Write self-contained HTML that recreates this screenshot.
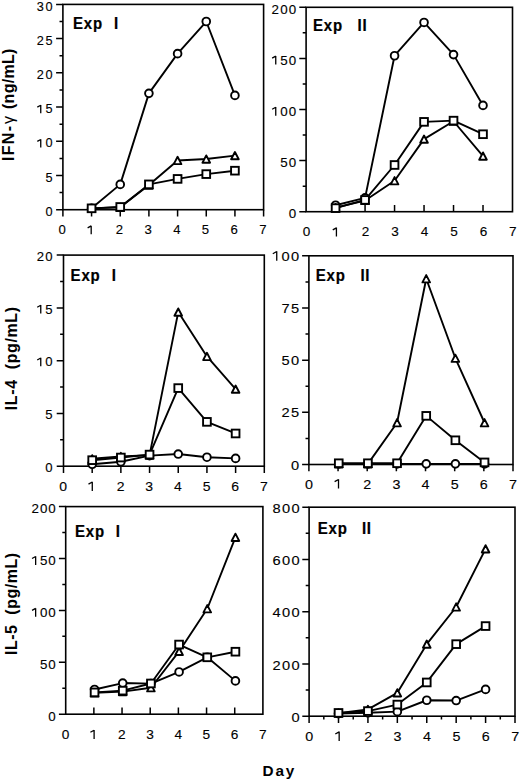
<!DOCTYPE html>
<html><head><meta charset="utf-8"><style>
html,body{margin:0;padding:0;background:#fff;}
body{width:520px;height:781px;overflow:hidden;}
svg{display:block;}
.ax{fill:none;stroke:#000;stroke-width:1.6;}
.tk{fill:none;stroke:#000;stroke-width:1.5;}
.ln{fill:none;stroke:#000;stroke-width:1.9;stroke-linejoin:round;}
.mk{fill:#fff;stroke:#000;stroke-width:1.9;}
.tr{stroke-linejoin:round;}
text{font-family:"Liberation Sans",sans-serif;fill:#000;}
.yl{font-size:12.4px;text-anchor:end;letter-spacing:2.1px;stroke:#000;stroke-width:0.12px;}
.xl{font-size:12.4px;text-anchor:middle;stroke:#000;stroke-width:0.12px;}
.ex{font-size:15px;font-weight:bold;letter-spacing:0.8px;stroke:#000;stroke-width:0.2px;}
.yt{font-size:16.2px;font-weight:bold;letter-spacing:1.1px;}
.g{font-weight:normal;}
.h{fill:none;stroke:none;}
.one{fill:none;stroke:#000;stroke-linecap:butt;}
.dy{font-size:15.3px;font-weight:bold;letter-spacing:1.9px;}
</style></head><body>
<svg width="520" height="781" viewBox="0 0 520 781">
<rect x="62.90" y="4.40" width="200.70" height="205.30" class="ax"/>
<text transform="translate(54.00 215.90) scale(1.07 1)" class="yl" style="font-size:11.9px;letter-spacing:1.419px">0</text>
<text transform="translate(54.00 181.68) scale(1.07 1)" class="yl" style="font-size:11.9px;letter-spacing:1.419px">5</text>
<text transform="translate(54.00 147.47) scale(1.07 1)" class="yl" style="font-size:11.9px;letter-spacing:1.419px"><tspan class="h">1</tspan>0</text>
<path d="M40.75 147.47V139.25M40.75 139.45L37.31 141.33" class="one" style="stroke-width:1.3"/>
<text transform="translate(54.00 113.25) scale(1.07 1)" class="yl" style="font-size:11.9px;letter-spacing:1.419px"><tspan class="h">1</tspan>5</text>
<path d="M40.75 113.25V105.03M40.75 105.23L37.31 107.11" class="one" style="stroke-width:1.3"/>
<text transform="translate(54.00 79.03) scale(1.07 1)" class="yl" style="font-size:11.9px;letter-spacing:1.419px">20</text>
<text transform="translate(54.00 44.82) scale(1.07 1)" class="yl" style="font-size:11.9px;letter-spacing:1.419px">25</text>
<text transform="translate(54.00 10.60) scale(1.07 1)" class="yl" style="font-size:11.9px;letter-spacing:1.419px">30</text>
<path d="M56.10 209.70H62.90 M59.50 192.59H62.90 M56.10 175.48H62.90 M59.50 158.38H62.90 M56.10 141.27H62.90 M59.50 124.16H62.90 M56.10 107.05H62.90 M59.50 89.94H62.90 M56.10 72.83H62.90 M59.50 55.72H62.90 M56.10 38.62H62.90 M59.50 21.51H62.90 M56.10 4.40H62.90 M62.90 209.70v6.80 M91.57 209.70v6.80 M120.24 209.70v6.80 M148.91 209.70v6.80 M177.59 209.70v6.80 M206.26 209.70v6.80 M234.93 209.70v6.80 M263.60 209.70v6.80" class="tk"/>
<text transform="translate(62.10 234.20) scale(1.07 1)" class="xl" style="font-size:12.3px">0</text>
<path d="M91.19 234.20V225.69M91.19 225.89L87.64 227.85" class="one" style="stroke-width:1.3"/>
<text transform="translate(119.44 234.20) scale(1.07 1)" class="xl" style="font-size:12.3px">2</text>
<text transform="translate(148.11 234.20) scale(1.07 1)" class="xl" style="font-size:12.3px">3</text>
<text transform="translate(176.79 234.20) scale(1.07 1)" class="xl" style="font-size:12.3px">4</text>
<text transform="translate(205.46 234.20) scale(1.07 1)" class="xl" style="font-size:12.3px">5</text>
<text transform="translate(234.13 234.20) scale(1.07 1)" class="xl" style="font-size:12.3px">6</text>
<text transform="translate(262.80 234.20) scale(1.07 1)" class="xl" style="font-size:12.3px">7</text>
<text transform="translate(73.00 28.90) scale(1 1.04)" class="ex">Exp</text>
<text transform="translate(113.90 28.90) scale(1 1.04)" class="ex">I</text>
<path d="M91.57 208.33 L120.24 184.38 L148.91 93.36 L177.59 53.67 L206.26 21.51 L234.93 95.42" class="ln"/>
<path d="M91.57 208.33 L120.24 206.96 L148.91 184.38 L177.59 178.91 L206.26 174.11 L234.93 170.69" class="ln"/>
<path d="M91.57 208.33 L120.24 207.30 L148.91 185.06 L177.59 160.43 L206.26 159.06 L234.93 155.64" class="ln"/>
<circle cx="91.57" cy="208.33" r="3.85" class="mk"/>
<circle cx="120.24" cy="184.38" r="3.85" class="mk"/>
<circle cx="148.91" cy="93.36" r="3.85" class="mk"/>
<circle cx="177.59" cy="53.67" r="3.85" class="mk"/>
<circle cx="206.26" cy="21.51" r="3.85" class="mk"/>
<circle cx="234.93" cy="95.42" r="3.85" class="mk"/>
<path d="M91.57 204.68L95.37 211.98L87.77 211.98Z" class="mk tr"/>
<path d="M120.24 203.65L124.04 210.95L116.44 210.95Z" class="mk tr"/>
<path d="M148.91 181.41L152.71 188.71L145.11 188.71Z" class="mk tr"/>
<path d="M177.59 156.78L181.39 164.08L173.79 164.08Z" class="mk tr"/>
<path d="M206.26 155.41L210.06 162.71L202.46 162.71Z" class="mk tr"/>
<path d="M234.93 151.99L238.73 159.29L231.13 159.29Z" class="mk tr"/>
<rect x="87.72" y="204.48" width="7.70" height="7.70" class="mk"/>
<rect x="116.39" y="203.11" width="7.70" height="7.70" class="mk"/>
<rect x="145.06" y="180.53" width="7.70" height="7.70" class="mk"/>
<rect x="173.74" y="175.06" width="7.70" height="7.70" class="mk"/>
<rect x="202.41" y="170.26" width="7.70" height="7.70" class="mk"/>
<rect x="231.08" y="166.84" width="7.70" height="7.70" class="mk"/>
<rect x="306.10" y="7.30" width="206.40" height="204.40" class="ax"/>
<text transform="translate(297.40 217.90) scale(1.07 1)" class="yl" style="font-size:12.5px;letter-spacing:1.085px">0</text>
<text transform="translate(297.40 166.80) scale(1.07 1)" class="yl" style="font-size:12.5px;letter-spacing:1.085px">50</text>
<text transform="translate(297.40 115.70) scale(1.07 1)" class="yl" style="font-size:12.5px;letter-spacing:1.085px"><tspan class="h">1</tspan>00</text>
<path d="M275.75 115.70V107.05M275.75 107.25L272.14 109.25" class="one" style="stroke-width:1.3"/>
<text transform="translate(297.40 64.60) scale(1.07 1)" class="yl" style="font-size:12.5px;letter-spacing:1.085px"><tspan class="h">1</tspan>50</text>
<path d="M275.75 64.60V55.95M275.75 56.15L272.14 58.15" class="one" style="stroke-width:1.3"/>
<text transform="translate(297.40 13.50) scale(1.07 1)" class="yl" style="font-size:12.5px;letter-spacing:1.085px">200</text>
<path d="M299.30 211.70H306.10 M302.70 186.15H306.10 M299.30 160.60H306.10 M302.70 135.05H306.10 M299.30 109.50H306.10 M302.70 83.95H306.10 M299.30 58.40H306.10 M302.70 32.85H306.10 M299.30 7.30H306.10 M335.59 211.70v-6.80 M365.07 211.70v-6.80 M394.56 211.70v-6.80 M424.04 211.70v-6.80 M453.53 211.70v-6.80 M483.01 211.70v-6.80" class="tk"/>
<text transform="translate(306.50 236.40) scale(1.07 1)" class="xl" style="font-size:12.7px">0</text>
<path d="M336.42 236.40V227.61M336.42 227.81L332.75 229.85" class="one" style="stroke-width:1.3"/>
<text transform="translate(365.47 236.40) scale(1.07 1)" class="xl" style="font-size:12.7px">2</text>
<text transform="translate(394.96 236.40) scale(1.07 1)" class="xl" style="font-size:12.7px">3</text>
<text transform="translate(424.44 236.40) scale(1.07 1)" class="xl" style="font-size:12.7px">4</text>
<text transform="translate(453.93 236.40) scale(1.07 1)" class="xl" style="font-size:12.7px">5</text>
<text transform="translate(483.41 236.40) scale(1.07 1)" class="xl" style="font-size:12.7px">6</text>
<text transform="translate(512.90 236.40) scale(1.07 1)" class="xl" style="font-size:12.7px">7</text>
<text transform="translate(313.00 30.80) scale(1 1.04)" class="ex">Exp</text>
<text transform="translate(357.60 30.80) scale(1 1.04)" class="ex">II</text>
<path d="M335.59 205.26 L365.07 197.90 L394.56 55.74 L424.04 22.43 L453.53 54.62 L483.01 105.41" class="ln"/>
<path d="M335.59 208.12 L365.07 199.95 L394.56 164.99 L424.04 121.87 L453.53 120.64 L483.01 134.23" class="ln"/>
<path d="M335.59 207.61 L365.07 200.46 L394.56 180.73 L424.04 139.14 L453.53 121.25 L483.01 156.10" class="ln"/>
<circle cx="335.59" cy="205.26" r="3.85" class="mk"/>
<circle cx="365.07" cy="197.90" r="3.85" class="mk"/>
<circle cx="394.56" cy="55.74" r="3.85" class="mk"/>
<circle cx="424.04" cy="22.43" r="3.85" class="mk"/>
<circle cx="453.53" cy="54.62" r="3.85" class="mk"/>
<circle cx="483.01" cy="105.41" r="3.85" class="mk"/>
<path d="M335.59 203.96L339.39 211.26L331.79 211.26Z" class="mk tr"/>
<path d="M365.07 196.81L368.87 204.11L361.27 204.11Z" class="mk tr"/>
<path d="M394.56 177.08L398.36 184.38L390.76 184.38Z" class="mk tr"/>
<path d="M424.04 135.49L427.84 142.79L420.24 142.79Z" class="mk tr"/>
<path d="M453.53 117.60L457.33 124.90L449.73 124.90Z" class="mk tr"/>
<path d="M483.01 152.45L486.81 159.75L479.21 159.75Z" class="mk tr"/>
<rect x="331.74" y="204.27" width="7.70" height="7.70" class="mk"/>
<rect x="361.22" y="196.10" width="7.70" height="7.70" class="mk"/>
<rect x="390.71" y="161.14" width="7.70" height="7.70" class="mk"/>
<rect x="420.19" y="118.02" width="7.70" height="7.70" class="mk"/>
<rect x="449.68" y="116.79" width="7.70" height="7.70" class="mk"/>
<rect x="479.16" y="130.38" width="7.70" height="7.70" class="mk"/>
<rect x="63.50" y="255.10" width="200.80" height="211.10" class="ax"/>
<text transform="translate(54.00 471.90) scale(1.07 1)" class="yl" style="font-size:12.3px;letter-spacing:1.253px">0</text>
<text transform="translate(54.00 419.12) scale(1.07 1)" class="yl" style="font-size:12.3px;letter-spacing:1.253px">5</text>
<text transform="translate(54.00 366.35) scale(1.07 1)" class="yl" style="font-size:12.3px;letter-spacing:1.253px"><tspan class="h">1</tspan>0</text>
<path d="M40.76 366.35V357.84M40.76 358.04L37.21 360.00" class="one" style="stroke-width:1.3"/>
<text transform="translate(54.00 313.57) scale(1.07 1)" class="yl" style="font-size:12.3px;letter-spacing:1.253px"><tspan class="h">1</tspan>5</text>
<path d="M40.76 313.57V305.07M40.76 305.27L37.21 307.23" class="one" style="stroke-width:1.3"/>
<text transform="translate(54.00 260.80) scale(1.07 1)" class="yl" style="font-size:12.3px;letter-spacing:1.253px">20</text>
<path d="M56.70 466.20H63.50 M60.10 439.81H63.50 M56.70 413.43H63.50 M60.10 387.04H63.50 M56.70 360.65H63.50 M60.10 334.26H63.50 M56.70 307.88H63.50 M60.10 281.49H63.50 M56.70 255.10H63.50 M63.50 466.20v6.80 M92.19 466.20v6.80 M120.87 466.20v6.80 M149.56 466.20v6.80 M178.24 466.20v6.80 M206.93 466.20v6.80 M235.61 466.20v6.80 M264.30 466.20v6.80" class="tk"/>
<text transform="translate(63.15 490.90) scale(1.07 1)" class="xl" style="font-size:13.1px">0</text>
<path d="M92.28 490.90V481.82M92.28 482.02L88.50 484.14" class="one" style="stroke-width:1.3"/>
<text transform="translate(120.52 490.90) scale(1.07 1)" class="xl" style="font-size:13.1px">2</text>
<text transform="translate(149.21 490.90) scale(1.07 1)" class="xl" style="font-size:13.1px">3</text>
<text transform="translate(177.89 490.90) scale(1.07 1)" class="xl" style="font-size:13.1px">4</text>
<text transform="translate(206.58 490.90) scale(1.07 1)" class="xl" style="font-size:13.1px">5</text>
<text transform="translate(235.26 490.90) scale(1.07 1)" class="xl" style="font-size:13.1px">6</text>
<text transform="translate(263.95 490.90) scale(1.07 1)" class="xl" style="font-size:13.1px">7</text>
<text transform="translate(70.60 280.60) scale(1 1.04)" class="ex">Exp</text>
<text transform="translate(111.80 280.60) scale(1 1.04)" class="ex">I</text>
<path d="M92.19 464.30 L120.87 461.77 L149.56 455.64 L178.24 454.06 L206.93 457.23 L235.61 458.39" class="ln"/>
<path d="M92.19 460.18 L120.87 457.54 L149.56 454.59 L178.24 388.09 L206.93 421.87 L235.61 433.48" class="ln"/>
<path d="M92.19 458.81 L120.87 456.49 L149.56 455.12 L178.24 312.10 L206.93 356.43 L235.61 389.15" class="ln"/>
<circle cx="92.19" cy="464.30" r="3.85" class="mk"/>
<circle cx="120.87" cy="461.77" r="3.85" class="mk"/>
<circle cx="149.56" cy="455.64" r="3.85" class="mk"/>
<circle cx="178.24" cy="454.06" r="3.85" class="mk"/>
<circle cx="206.93" cy="457.23" r="3.85" class="mk"/>
<circle cx="235.61" cy="458.39" r="3.85" class="mk"/>
<path d="M92.19 455.16L95.99 462.46L88.39 462.46Z" class="mk tr"/>
<path d="M120.87 452.84L124.67 460.14L117.07 460.14Z" class="mk tr"/>
<path d="M149.56 451.47L153.36 458.77L145.76 458.77Z" class="mk tr"/>
<path d="M178.24 308.45L182.04 315.75L174.44 315.75Z" class="mk tr"/>
<path d="M206.93 352.78L210.73 360.08L203.13 360.08Z" class="mk tr"/>
<path d="M235.61 385.50L239.41 392.80L231.81 392.80Z" class="mk tr"/>
<rect x="88.34" y="456.33" width="7.70" height="7.70" class="mk"/>
<rect x="117.02" y="453.69" width="7.70" height="7.70" class="mk"/>
<rect x="145.71" y="450.74" width="7.70" height="7.70" class="mk"/>
<rect x="174.39" y="384.24" width="7.70" height="7.70" class="mk"/>
<rect x="203.08" y="418.02" width="7.70" height="7.70" class="mk"/>
<rect x="231.76" y="429.63" width="7.70" height="7.70" class="mk"/>
<rect x="308.90" y="255.80" width="204.10" height="208.70" class="ax"/>
<text transform="translate(300.40 469.50) scale(1.07 1)" class="yl" style="font-size:13.7px;letter-spacing:1.166px">0</text>
<text transform="translate(300.40 417.32) scale(1.07 1)" class="yl" style="font-size:13.7px;letter-spacing:1.166px">25</text>
<text transform="translate(300.40 365.15) scale(1.07 1)" class="yl" style="font-size:13.7px;letter-spacing:1.166px">50</text>
<text transform="translate(300.40 312.98) scale(1.07 1)" class="yl" style="font-size:13.7px;letter-spacing:1.166px">75</text>
<text transform="translate(300.40 260.80) scale(1.07 1)" class="yl" style="font-size:13.7px;letter-spacing:1.166px"><tspan class="h">1</tspan>00</text>
<path d="M276.74 260.80V251.29M276.74 251.49L272.79 253.73" class="one" style="stroke-width:1.3"/>
<path d="M302.10 464.50H308.90 M305.50 438.41H308.90 M302.10 412.32H308.90 M305.50 386.24H308.90 M302.10 360.15H308.90 M305.50 334.06H308.90 M302.10 307.98H308.90 M305.50 281.89H308.90 M302.10 255.80H308.90 M308.90 464.50v6.80 M338.06 464.50v6.80 M367.21 464.50v6.80 M396.37 464.50v6.80 M425.53 464.50v6.80 M454.69 464.50v6.80 M483.84 464.50v6.80 M513.00 464.50v6.80" class="tk"/>
<text transform="translate(308.90 488.60) scale(1.07 1)" class="xl" style="font-size:13.4px">0</text>
<path d="M338.51 488.60V479.31M338.51 479.51L334.64 481.69" class="one" style="stroke-width:1.3"/>
<text transform="translate(367.21 488.60) scale(1.07 1)" class="xl" style="font-size:13.4px">2</text>
<text transform="translate(396.37 488.60) scale(1.07 1)" class="xl" style="font-size:13.4px">3</text>
<text transform="translate(425.53 488.60) scale(1.07 1)" class="xl" style="font-size:13.4px">4</text>
<text transform="translate(454.69 488.60) scale(1.07 1)" class="xl" style="font-size:13.4px">5</text>
<text transform="translate(483.84 488.60) scale(1.07 1)" class="xl" style="font-size:13.4px">6</text>
<text transform="translate(513.00 488.60) scale(1.07 1)" class="xl" style="font-size:13.4px">7</text>
<text transform="translate(315.80 280.60) scale(1 1.04)" class="ex">Exp</text>
<text transform="translate(360.40 280.60) scale(1 1.04)" class="ex">II</text>
<path d="M338.76 463.87 L367.91 463.87 L397.07 463.87 L426.23 463.87 L455.39 463.87 L484.54 463.87" class="ln"/>
<path d="M338.76 463.25 L367.91 463.25 L397.07 463.25 L426.23 415.87 L455.39 440.29 L484.54 462.41" class="ln"/>
<path d="M338.76 463.87 L367.91 463.87 L397.07 422.76 L426.23 278.76 L455.39 358.27 L484.54 422.76" class="ln"/>
<circle cx="338.76" cy="463.87" r="3.85" class="mk"/>
<circle cx="367.91" cy="463.87" r="3.85" class="mk"/>
<circle cx="397.07" cy="463.87" r="3.85" class="mk"/>
<circle cx="426.23" cy="463.87" r="3.85" class="mk"/>
<circle cx="455.39" cy="463.87" r="3.85" class="mk"/>
<circle cx="484.54" cy="463.87" r="3.85" class="mk"/>
<path d="M338.76 460.22L342.56 467.52L334.96 467.52Z" class="mk tr"/>
<path d="M367.91 460.22L371.71 467.52L364.11 467.52Z" class="mk tr"/>
<path d="M397.07 419.11L400.87 426.41L393.27 426.41Z" class="mk tr"/>
<path d="M426.23 275.11L430.03 282.41L422.43 282.41Z" class="mk tr"/>
<path d="M455.39 354.62L459.19 361.92L451.59 361.92Z" class="mk tr"/>
<path d="M484.54 419.11L488.34 426.41L480.74 426.41Z" class="mk tr"/>
<rect x="334.91" y="459.40" width="7.70" height="7.70" class="mk"/>
<rect x="364.06" y="459.40" width="7.70" height="7.70" class="mk"/>
<rect x="393.22" y="459.40" width="7.70" height="7.70" class="mk"/>
<rect x="422.38" y="412.02" width="7.70" height="7.70" class="mk"/>
<rect x="451.54" y="436.44" width="7.70" height="7.70" class="mk"/>
<rect x="480.69" y="458.56" width="7.70" height="7.70" class="mk"/>
<rect x="65.70" y="506.60" width="197.20" height="207.60" class="ax"/>
<text transform="translate(56.70 720.60) scale(1.07 1)" class="yl" style="font-size:12.5px;letter-spacing:0.899px">0</text>
<text transform="translate(56.70 668.70) scale(1.07 1)" class="yl" style="font-size:12.5px;letter-spacing:0.899px">50</text>
<text transform="translate(56.70 616.80) scale(1.07 1)" class="yl" style="font-size:12.5px;letter-spacing:0.899px"><tspan class="h">1</tspan>00</text>
<path d="M35.65 616.80V608.15M35.65 608.35L32.04 610.35" class="one" style="stroke-width:1.3"/>
<text transform="translate(56.70 564.90) scale(1.07 1)" class="yl" style="font-size:12.5px;letter-spacing:0.899px"><tspan class="h">1</tspan>50</text>
<path d="M35.65 564.90V556.25M35.65 556.45L32.04 558.45" class="one" style="stroke-width:1.3"/>
<text transform="translate(56.70 513.00) scale(1.07 1)" class="yl" style="font-size:12.5px;letter-spacing:0.899px">200</text>
<path d="M58.90 714.20H65.70 M62.30 688.25H65.70 M58.90 662.30H65.70 M62.30 636.35H65.70 M58.90 610.40H65.70 M62.30 584.45H65.70 M58.90 558.50H65.70 M62.30 532.55H65.70 M58.90 506.60H65.70 M93.87 714.20v-6.80 M122.04 714.20v-6.80 M150.21 714.20v-6.80 M178.39 714.20v-6.80 M206.56 714.20v-6.80 M234.73 714.20v-6.80" class="tk"/>
<text transform="translate(65.50 738.90) scale(1.07 1)" class="xl" style="font-size:12.8px">0</text>
<path d="M94.11 738.90V730.04M94.11 730.24L90.41 732.30" class="one" style="stroke-width:1.3"/>
<text transform="translate(121.84 738.90) scale(1.07 1)" class="xl" style="font-size:12.8px">2</text>
<text transform="translate(150.01 738.90) scale(1.07 1)" class="xl" style="font-size:12.8px">3</text>
<text transform="translate(178.19 738.90) scale(1.07 1)" class="xl" style="font-size:12.8px">4</text>
<text transform="translate(206.36 738.90) scale(1.07 1)" class="xl" style="font-size:12.8px">5</text>
<text transform="translate(234.53 738.90) scale(1.07 1)" class="xl" style="font-size:12.8px">6</text>
<text transform="translate(262.70 738.90) scale(1.07 1)" class="xl" style="font-size:12.8px">7</text>
<text transform="translate(75.00 537.10) scale(1 1.04)" class="ex">Exp</text>
<text transform="translate(115.70 537.10) scale(1 1.04)" class="ex">I</text>
<path d="M94.57 689.50 L122.74 683.06 L150.91 683.58 L179.09 671.95 L207.26 657.32 L235.43 680.88" class="ln"/>
<path d="M94.57 692.40 L122.74 690.64 L150.91 683.48 L179.09 644.55 L207.26 657.32 L235.43 651.71" class="ln"/>
<path d="M94.57 692.92 L122.74 691.57 L150.91 687.73 L179.09 651.40 L207.26 608.74 L235.43 537.32" class="ln"/>
<circle cx="94.57" cy="689.50" r="3.85" class="mk"/>
<circle cx="122.74" cy="683.06" r="3.85" class="mk"/>
<circle cx="150.91" cy="683.58" r="3.85" class="mk"/>
<circle cx="179.09" cy="671.95" r="3.85" class="mk"/>
<circle cx="207.26" cy="657.32" r="3.85" class="mk"/>
<circle cx="235.43" cy="680.88" r="3.85" class="mk"/>
<path d="M94.57 689.27L98.37 696.57L90.77 696.57Z" class="mk tr"/>
<path d="M122.74 687.92L126.54 695.22L118.94 695.22Z" class="mk tr"/>
<path d="M150.91 684.08L154.71 691.38L147.11 691.38Z" class="mk tr"/>
<path d="M179.09 647.75L182.89 655.05L175.29 655.05Z" class="mk tr"/>
<path d="M207.26 605.09L211.06 612.39L203.46 612.39Z" class="mk tr"/>
<path d="M235.43 533.67L239.23 540.97L231.63 540.97Z" class="mk tr"/>
<rect x="90.72" y="688.55" width="7.70" height="7.70" class="mk"/>
<rect x="118.89" y="686.79" width="7.70" height="7.70" class="mk"/>
<rect x="147.06" y="679.63" width="7.70" height="7.70" class="mk"/>
<rect x="175.24" y="640.70" width="7.70" height="7.70" class="mk"/>
<rect x="203.41" y="653.47" width="7.70" height="7.70" class="mk"/>
<rect x="231.58" y="647.86" width="7.70" height="7.70" class="mk"/>
<rect x="309.10" y="507.20" width="205.90" height="209.00" class="ax"/>
<text transform="translate(300.80 721.80) scale(1.07 1)" class="yl" style="font-size:13.7px;letter-spacing:1.166px">0</text>
<text transform="translate(300.80 669.55) scale(1.07 1)" class="yl" style="font-size:13.7px;letter-spacing:1.166px">200</text>
<text transform="translate(300.80 617.30) scale(1.07 1)" class="yl" style="font-size:13.7px;letter-spacing:1.166px">400</text>
<text transform="translate(300.80 565.05) scale(1.07 1)" class="yl" style="font-size:13.7px;letter-spacing:1.166px">600</text>
<text transform="translate(300.80 512.80) scale(1.07 1)" class="yl" style="font-size:13.7px;letter-spacing:1.166px">800</text>
<path d="M302.30 716.20H309.10 M305.70 690.08H309.10 M302.30 663.95H309.10 M305.70 637.83H309.10 M302.30 611.70H309.10 M305.70 585.58H309.10 M302.30 559.45H309.10 M305.70 533.33H309.10 M302.30 507.20H309.10 M309.10 716.20v6.80 M338.51 716.20v6.80 M367.93 716.20v6.80 M397.34 716.20v6.80 M426.76 716.20v6.80 M456.17 716.20v6.80 M485.59 716.20v6.80 M515.00 716.20v6.80 M323.81 716.20v3.20 M353.22 716.20v3.20 M382.64 716.20v3.20 M412.05 716.20v3.20 M441.46 716.20v3.20 M470.88 716.20v3.20 M500.29 716.20v3.20" class="tk"/>
<text transform="translate(309.30 740.90) scale(1.07 1)" class="xl" style="font-size:13.4px">0</text>
<path d="M339.17 740.90V731.61M339.17 731.81L335.30 733.99" class="one" style="stroke-width:1.3"/>
<text transform="translate(368.13 740.90) scale(1.07 1)" class="xl" style="font-size:13.4px">2</text>
<text transform="translate(397.54 740.90) scale(1.07 1)" class="xl" style="font-size:13.4px">3</text>
<text transform="translate(426.96 740.90) scale(1.07 1)" class="xl" style="font-size:13.4px">4</text>
<text transform="translate(456.37 740.90) scale(1.07 1)" class="xl" style="font-size:13.4px">5</text>
<text transform="translate(485.79 740.90) scale(1.07 1)" class="xl" style="font-size:13.4px">6</text>
<text transform="translate(515.20 740.90) scale(1.07 1)" class="xl" style="font-size:13.4px">7</text>
<text transform="translate(317.70 533.60) scale(1 1.04)" class="ex">Exp</text>
<text transform="translate(361.90 533.60) scale(1 1.04)" class="ex">II</text>
<path d="M338.51 713.59 L367.93 712.80 L397.34 711.63 L426.76 700.26 L456.17 700.53 L485.59 689.42" class="ln"/>
<path d="M338.51 712.93 L367.93 711.08 L397.34 704.57 L426.76 682.45 L456.17 644.15 L485.59 626.07" class="ln"/>
<path d="M338.51 713.07 L367.93 709.41 L397.34 692.82 L426.76 644.15 L456.17 606.97 L485.59 548.84" class="ln"/>
<circle cx="338.51" cy="713.59" r="3.85" class="mk"/>
<circle cx="367.93" cy="712.80" r="3.85" class="mk"/>
<circle cx="397.34" cy="711.63" r="3.85" class="mk"/>
<circle cx="426.76" cy="700.26" r="3.85" class="mk"/>
<circle cx="456.17" cy="700.53" r="3.85" class="mk"/>
<circle cx="485.59" cy="689.42" r="3.85" class="mk"/>
<path d="M338.51 709.42L342.31 716.72L334.71 716.72Z" class="mk tr"/>
<path d="M367.93 705.76L371.73 713.06L364.13 713.06Z" class="mk tr"/>
<path d="M397.34 689.17L401.14 696.47L393.54 696.47Z" class="mk tr"/>
<path d="M426.76 640.50L430.56 647.80L422.96 647.80Z" class="mk tr"/>
<path d="M456.17 603.32L459.97 610.62L452.37 610.62Z" class="mk tr"/>
<path d="M485.59 545.19L489.39 552.49L481.79 552.49Z" class="mk tr"/>
<rect x="334.66" y="709.08" width="7.70" height="7.70" class="mk"/>
<rect x="364.08" y="707.23" width="7.70" height="7.70" class="mk"/>
<rect x="393.49" y="700.72" width="7.70" height="7.70" class="mk"/>
<rect x="422.91" y="678.60" width="7.70" height="7.70" class="mk"/>
<rect x="452.32" y="640.30" width="7.70" height="7.70" class="mk"/>
<rect x="481.74" y="622.22" width="7.70" height="7.70" class="mk"/>
<text transform="translate(13.8 161.0) rotate(-90)" class="yt" style="font-size:16.0px;letter-spacing:1.3px">IFN-<tspan class="g" dx="0.6">γ</tspan><tspan dx="1.0" style="letter-spacing:0.3px"> (ng/mL)</tspan></text>
<text transform="translate(16.7 410.2) rotate(-90)" class="yt" style="font-size:16.0px;letter-spacing:0.6px">IL-4 &#160;(pg/mL)</text>
<text transform="translate(16.7 655.0) rotate(-90)" class="yt" style="font-size:16.0px;letter-spacing:0.5px">IL-5 &#160;(pg/mL)</text>
<text x="262.5" y="775.6" class="dy">Day</text>
</svg>
</body></html>
